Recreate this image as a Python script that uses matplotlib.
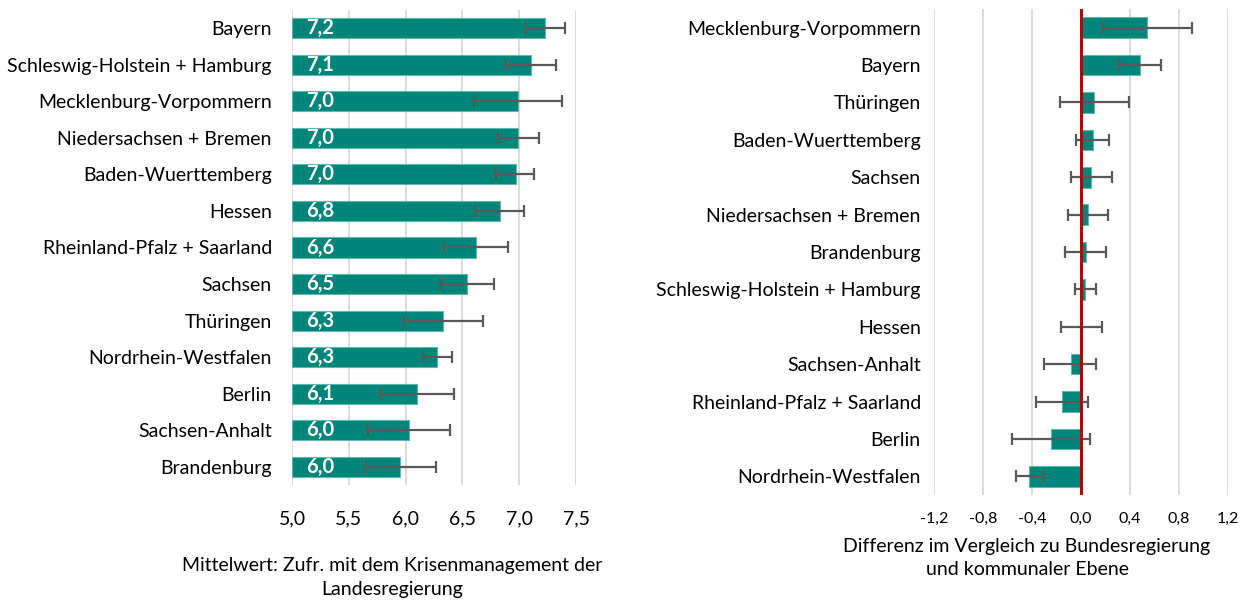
#!/usr/bin/env python3
"""Zufriedenheit mit dem Krisenmanagement der Landesregierung, nach Bundesland."""
import matplotlib
matplotlib.use("Agg")
import matplotlib.pyplot as plt
from matplotlib.ticker import FuncFormatter

plt.rcParams["font.family"] = ["Lato", "DejaVu Sans"]

TEAL = "#00857A"
EDGE = "#5FB8B0"
ERR = "#595959"
GRID = "#D9D9D9"

# left panel: mean satisfaction with confidence interval
left_states = [
    "Bayern", "Schleswig-Holstein + Hamburg", "Mecklenburg-Vorpommern",
    "Niedersachsen + Bremen", "Baden-Wuerttemberg", "Hessen",
    "Rheinland-Pfalz + Saarland", "Sachsen", "Thüringen",
    "Nordrhein-Westfalen", "Berlin", "Sachsen-Anhalt", "Brandenburg",
]
left_mean = [7.23, 7.10, 6.99, 6.99, 6.97, 6.83, 6.62, 6.54, 6.33, 6.28, 6.10, 6.03, 5.95]
left_lo = [7.06, 6.88, 6.60, 6.81, 6.80, 6.61, 6.34, 6.31, 5.99, 6.15, 5.78, 5.67, 5.65]
left_hi = [7.40, 7.32, 7.38, 7.17, 7.13, 7.04, 6.90, 6.78, 6.68, 6.41, 6.43, 6.39, 6.27]

# right panel: difference to federal and municipal level
right_states = [
    "Mecklenburg-Vorpommern", "Bayern", "Thüringen", "Baden-Wuerttemberg",
    "Sachsen", "Niedersachsen + Bremen", "Brandenburg",
    "Schleswig-Holstein + Hamburg", "Hessen", "Sachsen-Anhalt",
    "Rheinland-Pfalz + Saarland", "Berlin", "Nordrhein-Westfalen",
]
right_diff = [0.54, 0.48, 0.11, 0.095, 0.084, 0.054, 0.038, 0.035, 0.004, -0.085, -0.153, -0.245, -0.422]
right_lo = [0.18, 0.31, -0.17, -0.04, -0.08, -0.11, -0.13, -0.05, -0.16, -0.30, -0.37, -0.56, -0.53]
right_hi = [0.91, 0.65, 0.39, 0.23, 0.25, 0.22, 0.20, 0.12, 0.17, 0.12, 0.06, 0.07, -0.30]

comma = FuncFormatter(lambda v, _: f"{v:.1f}".replace(".", ","))


def draw_panel(axis, labels, values, lo, hi, base):
    y = list(range(len(labels)))
    widths = [v - base for v in values]
    xerr = [[v - l for v, l in zip(values, lo)], [h - v for v, h in zip(values, hi)]]
    axis.barh(y, widths, left=base, height=0.55, color=TEAL, edgecolor=EDGE,
              linewidth=0.8, zorder=2)
    axis.errorbar(values, y, xerr=xerr, fmt="none", ecolor=ERR, elinewidth=1.6,
                  capsize=4, capthick=1.6, zorder=3)
    axis.set_yticks(y)
    axis.set_yticklabels(labels, fontsize=14)
    axis.invert_yaxis()
    axis.set_ylim(len(labels) - 0.5, -0.5)
    axis.xaxis.set_major_formatter(comma)
    axis.grid(axis="x", color=GRID, linewidth=1.3, zorder=0)
    axis.set_axisbelow(True)
    axis.tick_params(length=0)
    for side in ["top", "right", "bottom", "left"]:
        axis.spines[side].set_visible(False)


fig = plt.figure(figsize=(12.43, 6.01), dpi=100)

left_ax = fig.add_axes([292 / 1243, 1 - 485 / 601, 284 / 1243, 475 / 601])
draw_panel(left_ax, left_states, left_mean, left_lo, left_hi, 5.0)
left_ax.set_xlim(5.0, 7.5)
left_ax.set_xticks([5.0, 5.5, 6.0, 6.5, 7.0, 7.5])
left_ax.tick_params(axis="y", pad=14.5)
left_ax.tick_params(axis="x", pad=18.5, labelsize=14)
for i, v in enumerate(left_mean):
    left_ax.annotate(f"{v:.1f}".replace(".", ","), (5.0, i), xytext=(10.5, 0),
                     textcoords="offset points", va="center", ha="left",
                     color="white", fontsize=14.5, fontweight="bold", zorder=4)

right_ax = fig.add_axes([934 / 1243, 1 - 495 / 601, 294 / 1243, 486 / 601])
draw_panel(right_ax, right_states, right_diff, right_lo, right_hi, 0.0)
right_ax.set_xlim(-1.2, 1.2)
right_ax.set_xticks([-1.2, -0.8, -0.4, 0.0, 0.4, 0.8, 1.2])
right_ax.tick_params(axis="y", pad=9.5)
right_ax.tick_params(axis="x", pad=12, labelsize=11.5)
right_ax.axvline(0, color="#C00000", linewidth=2.2, zorder=5)

fig.text(392 / 1243, 1 - 577 / 601, "Mittelwert: Zufr. mit dem Krisenmanagement der\nLandesregierung",
         ha="center", va="center", fontsize=14, linespacing=1.5)
fig.text(1027 / 1243, 1 - 558 / 601, "Differenz im Vergleich zu Bundesregierung\nund kommunaler Ebene",
         ha="center", va="center", fontsize=14, linespacing=1.45)

fig.savefig("out.png", dpi=100)
